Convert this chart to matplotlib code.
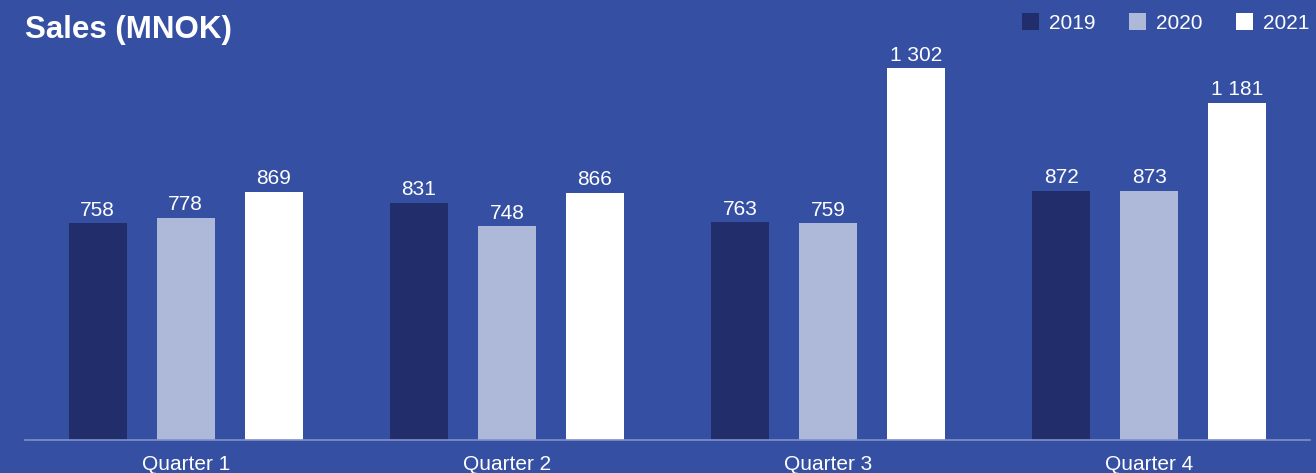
import matplotlib
matplotlib.use("Agg")
import matplotlib.pyplot as plt
import numpy as np
from matplotlib.patches import Patch

categories = ["Quarter 1", "Quarter 2", "Quarter 3", "Quarter 4"]
years = ["2019", "2020", "2021"]
sales_2019 = [758, 831, 763, 872]
sales_2020 = [778, 748, 759, 873]
sales_2021 = [869, 866, 1302, 1181]
series = [sales_2019, sales_2020, sales_2021]
colors = ["#222d6b", "#aeb9da", "#ffffff"]
bg = "#3550a3"

plt.rcParams['font.family'] = ['Liberation Sans', 'DejaVu Sans']

W, H = 1316, 473
fig = plt.figure(figsize=(W/100, H/100), dpi=100, facecolor=bg)
ax = fig.add_axes([25/W, (H-440)/H, 1285/W, 440/H], facecolor=bg)

x = np.arange(len(categories))
bw = 58/321
step = 88/321
for i, (vals, c) in enumerate(zip(series, colors)):
    pos = x + (i-1)*step
    ax.bar(pos, vals, width=bw, color=c, zorder=2)
    for p, v in zip(pos, vals):
        lab = f"{v:,}".replace(",", " ")
        ax.annotate(lab, (p, v), xytext=(0, 2.5), textcoords="offset points",
                    ha="center", va="bottom", color="white", fontsize=15)

ax.set_xlim(-0.5, 3.5)
ax.set_ylim(0, 1540)
ax.set_yticks([])
ax.set_xticks(x)
ax.set_xticklabels(categories, color="white", fontsize=15)
ax.tick_params(axis="x", length=0, pad=11)
for s in ["top", "right", "left"]:
    ax.spines[s].set_visible(False)
ax.spines["bottom"].set_color("#7f90c8")
ax.spines["bottom"].set_linewidth(1.2)

fig.text(25/W, 1-30/H, "Sales (MNOK)", color="white", fontsize=22.5,
         fontweight="bold", va="center", ha="left")

handles = [Patch(facecolor=c, edgecolor="none", label=y) for c, y in zip(colors, years)]
leg = fig.legend(handles=handles, loc="center right", bbox_to_anchor=(1309/W, 1-23/H),
                 ncol=3, frameon=False, fontsize=15, labelcolor="white",
                 borderpad=0, borderaxespad=0,
                 handlelength=0.85, handleheight=0.85, handletextpad=0.45, columnspacing=1.6)

fig.savefig("out.png", dpi=100, facecolor=bg)
